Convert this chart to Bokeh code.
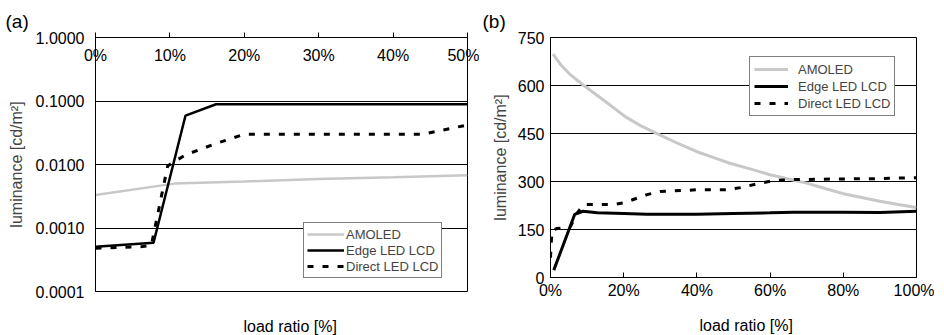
from bokeh.plotting import figure
from bokeh.models import Range1d, FixedTicker, PrintfTickFormatter, Title
from bokeh.layouts import row
from bokeh.embed import file_html
from bokeh.resources import INLINE

FONT = "Liberation Sans"
GRAY = "#c8c8c8"
SERIES = ["AMOLED", "Edge LED LCD", "Direct LED LCD"]
XLABEL = "load ratio [%]"
YLABEL = "luminance [cd/m²]"

# ---------------- panel (a) data: load ratio [%] vs luminance (log) ----------------
a_amoled_x = [0, 10.6, 20, 30, 40, 50]
a_amoled_y = [0.0033, 0.0050, 0.0054, 0.0059, 0.0063, 0.0068]
a_edge_x = [0, 7.8, 12.1, 16.2, 22, 30, 40, 50]
a_edge_y = [0.000505, 0.000585, 0.059, 0.089, 0.089, 0.089, 0.089, 0.089]
a_direct_x = [0, 6.3, 7.5, 9.7, 12, 16, 20, 44, 50]
a_direct_y = [0.00048, 0.00051, 0.00053, 0.0095, 0.014, 0.021, 0.030, 0.030, 0.042]
a_xticks = [0, 10, 20, 30, 40, 50]
a_yticks = [0.0001, 0.001, 0.01, 0.1, 1.0]

# ---------------- panel (b) data: load ratio [%] vs luminance (linear) ----------------
b_amoled_x = [0.7, 3, 5.5, 9.1, 15, 20.5, 25, 30, 35, 40, 45, 49, 55, 60, 65, 70, 75, 80, 85, 90, 95, 100]
b_amoled_y = [698, 662, 633, 600, 550, 502, 472, 445, 418, 393, 373, 357, 338, 321, 308, 295, 278, 262, 250, 238, 228, 219]
b_edge_x = [0.9, 6.6, 8.9, 12.8, 20, 26.4, 40, 50, 60, 66.5, 80, 90, 100]
b_edge_y = [23, 197, 207, 202, 200, 198, 198, 200, 202, 204, 204, 203, 207]
b_direct_x = [0, 0.2, 0.5, 1.8, 4, 5.5, 7.3, 9.1, 17.3, 20, 26.4, 30, 40, 48.3, 52, 57.4, 61, 66.5, 80, 90, 100]
b_direct_y = [62, 109, 148, 153, 155, 160, 202, 228, 228, 233, 259, 269, 274, 274, 281, 295, 303, 306, 308, 309, 312]
b_xticks = [0, 20, 40, 60, 80, 100]
b_yticks = [0, 150, 300, 450, 600, 750]


def style_common(p):
    p.outline_line_color = "black"
    p.outline_line_width = 1
    p.background_fill_color = "white"
    p.border_fill_color = "white"
    for ax in p.axis:
        ax.major_label_text_font = FONT
        ax.major_label_text_font_size = "16px"
        ax.major_label_text_color = "black"
        ax.axis_label_text_font = FONT
        ax.axis_label_text_font_size = "16px"
        ax.axis_label_text_font_style = "normal"
        ax.axis_line_color = "black"
        ax.major_tick_line_color = "black"
        ax.minor_tick_line_color = None
    p.xgrid.visible = False
    p.ygrid.grid_line_color = "black"
    p.ygrid.grid_line_alpha = 1.0
    p.ygrid.grid_line_width = 1


def style_legend(p, loc, glyph_w, standoff, pad, spacing):
    lg = p.legend[0]
    lg.location = loc
    lg.margin = 0
    lg.padding = pad
    lg.spacing = spacing
    lg.glyph_width = glyph_w
    lg.glyph_height = 16
    lg.label_standoff = standoff
    lg.label_text_font = FONT
    lg.label_text_font_size = "13px"
    lg.label_height = 16
    lg.border_line_color = "black"
    lg.border_line_width = 1
    lg.background_fill_color = "white"
    lg.background_fill_alpha = 1.0


def style_title(t, size, offset, standoff):
    t.align = "left"
    t.offset = offset
    t.standoff = standoff
    t.text_font = FONT
    t.text_font_size = size
    t.text_font_style = "normal"
    t.text_color = "black"


# ---------------- panel (a) ----------------
pa = figure(frame_width=372, frame_height=254,
            x_range=Range1d(0, 50), y_range=Range1d(1e-4, 1),
            y_axis_type="log", x_axis_location="above",
            min_border_left=95, min_border_right=12,
            min_border_top=37, min_border_bottom=44,
            output_backend="svg", toolbar_location=None)

pa.line(a_amoled_x, a_amoled_y, line_color=GRAY, line_width=2.5, legend_label=SERIES[0])
pa.line(a_edge_x, a_edge_y, line_color="black", line_width=2.5, legend_label=SERIES[1])
pa.line(a_direct_x, a_direct_y, line_color="black", line_width=3, line_dash="6 9",
        legend_label=SERIES[2])

style_common(pa)
pa.xaxis.ticker = FixedTicker(ticks=a_xticks)
pa.xaxis.formatter = PrintfTickFormatter(format="%d%%")
pa.xaxis.major_tick_out = 5
pa.xaxis.major_tick_in = 0
pa.xaxis.major_label_standoff = -31
pa.yaxis.ticker = FixedTicker(ticks=a_yticks)
pa.yaxis.formatter = PrintfTickFormatter(format="%.4f")
pa.yaxis.major_tick_out = 0
pa.yaxis.major_tick_in = 0
pa.yaxis.major_label_standoff = 11
pa.yaxis.axis_label = YLABEL
pa.yaxis.axis_label_standoff = 8
pa.ygrid.ticker = FixedTicker(ticks=a_yticks)
style_legend(pa, (208, 13), 37, 2, 3, 0)

pa.title.text = "(a)"
style_title(pa.title, "19px", -90, 12)
spacer_a = Title(text=" ")
style_title(spacer_a, "1px", 0, 21)
pa.add_layout(spacer_a, "below")
xlab_a = Title(text=XLABEL)
style_title(xlab_a, "16px", 148, 0)
pa.add_layout(xlab_a, "below")

# ---------------- panel (b) ----------------
pb = figure(frame_width=366, frame_height=240,
            x_range=Range1d(0, 100), y_range=Range1d(0, 750),
            min_border_left=71, min_border_right=18,
            min_border_top=37, min_border_bottom=58,
            output_backend="svg", toolbar_location=None)

pb.line(b_amoled_x, b_amoled_y, line_color=GRAY, line_width=3, legend_label=SERIES[0])
pb.line(b_edge_x, b_edge_y, line_color="black", line_width=3, legend_label=SERIES[1])
pb.line(b_direct_x, b_direct_y, line_color="black", line_width=3, line_dash="6 9",
        legend_label=SERIES[2])

style_common(pb)
pb.xaxis.ticker = FixedTicker(ticks=b_xticks)
pb.xaxis.formatter = PrintfTickFormatter(format="%d%%")
pb.xaxis.major_tick_out = 0
pb.xaxis.major_tick_in = 5
pb.xaxis.major_label_standoff = 4
pb.yaxis.ticker = FixedTicker(ticks=b_yticks)
pb.yaxis.major_tick_out = 0
pb.yaxis.major_tick_in = 0
pb.yaxis.major_label_standoff = 6
pb.yaxis.axis_label = YLABEL
pb.yaxis.axis_label_standoff = 6
pb.ygrid.ticker = FixedTicker(ticks=b_yticks)
style_legend(pb, (199, 161), 34, 10, 4, 1)

pb.title.text = "(b)"
style_title(pb.title, "19px", -68, 12)
spacer_b = Title(text=" ")
style_title(spacer_b, "1px", 0, 10)
pb.add_layout(spacer_b, "below")
xlab_b = Title(text=XLABEL)
style_title(xlab_b, "16px", 149, 0)
pb.add_layout(xlab_b, "below")

layout = row(pa, pb)
open("out.html", "w").write(file_html(layout, INLINE))
